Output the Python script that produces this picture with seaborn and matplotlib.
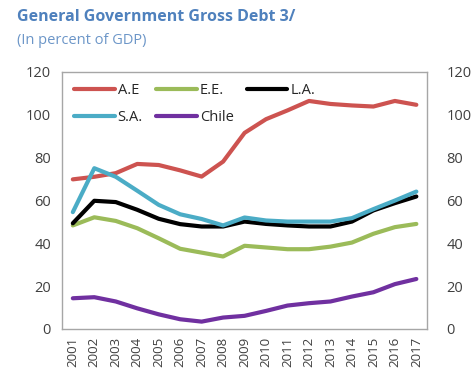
import seaborn as sns
import matplotlib.pyplot as plt
import pandas as pd

years = [str(y) for y in range(2001, 2018)]
ae = [69.8, 71.0, 72.7, 77.0, 76.5, 74.0, 71.1, 78.1, 91.5, 97.9, 102.0, 106.4, 105.0, 104.3, 103.8, 106.4, 104.6]
ee = [48.3, 52.1, 50.4, 47.0, 42.3, 37.4, 35.6, 33.8, 38.8, 38.0, 37.2, 37.2, 38.4, 40.3, 44.4, 47.5, 49.0]
la = [49.3, 59.8, 59.2, 55.6, 51.4, 48.9, 47.8, 47.8, 50.1, 49.0, 48.3, 47.8, 47.8, 50.1, 55.3, 58.7, 61.8]
sa = [54.5, 75.0, 71.0, 64.5, 57.9, 53.5, 51.3, 48.3, 52.0, 50.6, 50.1, 50.1, 50.1, 51.7, 55.9, 59.9, 64.1]
chile = [14.3, 14.8, 12.8, 9.6, 6.8, 4.5, 3.4, 5.3, 6.1, 8.4, 10.9, 12.0, 12.8, 15.1, 17.1, 20.9, 23.3]

series = ["A.E", "E.E.", "L.A.", "S.A.", "Chile"]
colors = ["#CD5350", "#9BBB59", "#000000", "#4BACC6", "#7030A0"]

df = pd.DataFrame({"A.E": ae, "E.E.": ee, "L.A.": la, "S.A.": sa, "Chile": chile}, index=years)
long_df = df.reset_index(names="Year").melt(id_vars="Year", var_name="Region", value_name="Debt")

sns.set_theme(style="white")
plt.rcParams['font.family'] = ['Open Sans', 'DejaVu Sans']

fig = plt.figure(figsize=(4.74, 3.82), dpi=100)
ax = fig.add_axes([0.131, 0.139, 0.770, 0.673])

sns.lineplot(data=long_df, x="Year", y="Debt", hue="Region", hue_order=series,
             palette=colors, linewidth=3, ax=ax, sort=False)

ax.set_xlim(-0.5, len(years) - 0.5)
ax.set_ylim(0, 120)
ax.set_yticks(range(0, 121, 20))
ax.set_xlabel("")
ax.set_ylabel("")
for s in ax.spines.values():
    s.set_color("#A6A6A6")
    s.set_linewidth(1)
ax.tick_params(axis='y', length=0, pad=8, labelsize=10.5, colors="#404040")
ax.tick_params(axis='x', length=0, pad=6, labelsize=9.5, colors="#404040", rotation=90)

ax2 = ax.twinx()
ax2.set_ylim(0, 120)
ax2.set_yticks(range(0, 121, 20))
ax2.tick_params(axis='y', length=0, pad=14, labelsize=10.5, colors="#404040")
for s in ax2.spines.values():
    s.set_visible(False)
ax2.grid(False)

# legend fills column-wise; reorder so rows read A.E, E.E., L.A. / S.A., Chile
handles, labels = ax.get_legend_handles_labels()
lookup = dict(zip(labels, handles))
order = ["A.E", "S.A.", "E.E.", "Chile", "L.A."]
ax.legend([lookup[k] for k in order], order, loc="upper left", ncol=3, frameon=False,
          handlelength=2.8, handletextpad=0.2, columnspacing=0.9,
          labelspacing=0.8, fontsize=10.5, bbox_to_anchor=(0.0, 1.0),
          borderaxespad=0.4)
for t in ax.get_legend().get_texts():
    t.set_color("#262626")

fig.text(0.036, 0.955, "General Government Gross Debt 3/", fontsize=11.5,
         fontweight="bold", color="#4F81BD", va="center", ha="left")
fig.text(0.036, 0.895, "(In percent of GDP)", fontsize=10.5,
         color="#6C96C8", va="center", ha="left")

fig.savefig("out.png", dpi=100)
